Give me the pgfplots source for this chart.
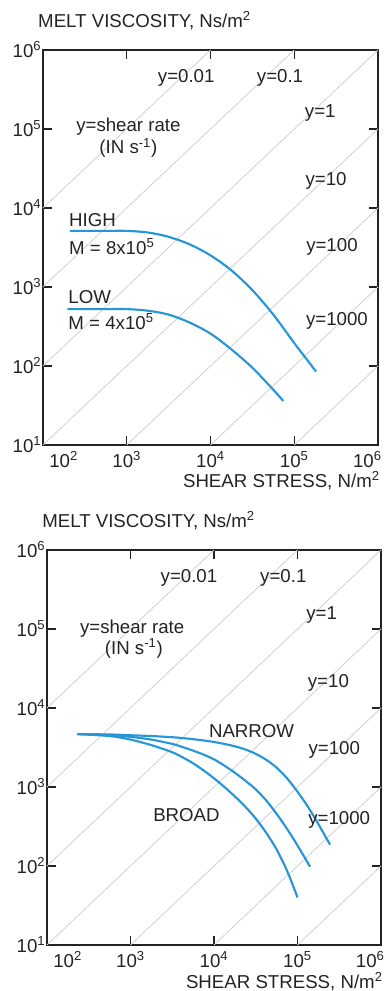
\documentclass[border=0pt]{standalone}
\usepackage{fontspec}
\setmainfont{Liberation Sans}
\usepackage{pgfplots}
\pgfplotsset{compat=1.18}
\definecolor{curveblue}{RGB}{38,150,216}
\definecolor{rategray}{RGB}{208,208,208}
\definecolor{ink}{RGB}{35,35,35}
\newcommand{\sq}[1]{\textsuperscript{#1}}
\tikzset{
 rateline/.style={rategray, line width=0.6pt},
 flow/.style={curveblue, line width=1.6pt, smooth, tension=0.5},
 lab/.style={ink, inner sep=0pt},
}
\begin{document}
\fontsize{14}{17}\selectfont
\begin{tikzpicture}
\path[use as bounding box] (0pt,0pt) rectangle (288.75pt,743.25pt);

% ---------------- top chart ----------------
\begin{axis}[at={(32.25pt,409.5pt)}, width=251.25pt,
  xmode=log, ymode=log, xmin=100, xmax=1e6, ymin=10, ymax=1e6,
  scale only axis, height=296.25pt,
  axis line style={ink, line width=1.4pt},
  major tick style={ink, line width=1.1pt}, major tick length=6.5pt,
  xminorticks=false, yminorticks=false,
  xtick={100,1000,10000,100000,1000000},
  xticklabels={\hspace*{31pt}10\sq{2},10\sq{3},10\sq{4},10\sq{5},10\sq{6}\hspace*{16pt}},
  ytick={10,100,1000,10000,100000,1000000},
  yticklabels={10\sq{1},10\sq{2},10\sq{3},10\sq{4},10\sq{5},10\sq{6}},
  tick label style={ink},
  yticklabel style={inner xsep=1pt},
  clip=false, anchor=south west]
\addplot[rateline] coordinates {(100,10000) (10000,1000000)};
\addplot[rateline] coordinates {(100,1000) (100000,1000000)};
\addplot[rateline] coordinates {(100,100) (1000000,1000000)};
\addplot[rateline] coordinates {(100,10) (1000000,100000)};
\addplot[rateline] coordinates {(1000,10) (1000000,10000)};
\addplot[rateline] coordinates {(10000,10) (1000000,1000)};
\addplot[rateline] coordinates {(100000,10) (1000000,100)};
% HIGH
\addplot[flow] coordinates {
(209,5129) (562,5129) (1000,5129) (1778,4898) (3162,4315) (5623,3467)
(10000,2512) (17783,1622) (31623,912) (56234,447) (100000,195)
(134896,129) (181970,85)};
% LOW
\addplot[flow] coordinates {
(195,525) (562,525) (1000,525) (1778,501) (3162,447) (5623,355)
(10000,257) (17783,162) (31623,95) (56234,50) (74131,36)};
\node[lab] at (axis cs:5129,446684) {y=0.01};
\node[lab] at (axis cs:67608,446684) {y=0.1};
\node[lab] at (axis cs:204174,158489) {y=1};
\node[lab] at (axis cs:239883,21878) {y=10};
\node[lab] at (axis cs:281838,3236) {y=100};
\node[lab] at (axis cs:323594,372) {y=1000};
\node[lab] at (axis cs:1047,107152) {y=shear rate};
\node[lab] at (axis cs:1047,57544) {(IN s\sq{-1})};
\node[lab,anchor=west] at (axis cs:204,7079) {HIGH};
\node[lab,anchor=west] at (axis cs:204,3236) {M = 8x10\sq{5}};
\node[lab,anchor=west] at (axis cs:200,741) {LOW};
\node[lab,anchor=west] at (axis cs:200,363) {M = 4x10\sq{5}};
\node[lab,anchor=base west] at (rel axis cs:-0.015,1.056) {MELT VISCOSITY, Ns/m\sq{2}};
\node[lab,anchor=north east] at (rel axis cs:1.006,-0.066) {SHEAR STRESS, N/m\sq{2}};
\end{axis}

% ---------------- bottom chart ----------------
\begin{axis}[at={(35.25pt,34.5pt)}, width=250.5pt,
  xmode=log, ymode=log, xmin=100, xmax=1e6, ymin=10, ymax=1e6,
  scale only axis, height=296.25pt,
  axis line style={ink, line width=1.4pt},
  major tick style={ink, line width=1.1pt}, major tick length=6.5pt,
  xminorticks=false, yminorticks=false,
  xtick={100,1000,10000,100000,1000000},
  xticklabels={\hspace*{31pt}10\sq{2},10\sq{3},10\sq{4},10\sq{5},10\sq{6}\hspace*{16pt}},
  ytick={10,100,1000,10000,100000,1000000},
  yticklabels={10\sq{1},10\sq{2},10\sq{3},10\sq{4},10\sq{5},10\sq{6}},
  tick label style={ink},
  yticklabel style={inner xsep=1pt},
  clip=false, anchor=south west]
\addplot[rateline] coordinates {(100,10000) (10000,1000000)};
\addplot[rateline] coordinates {(100,1000) (100000,1000000)};
\addplot[rateline] coordinates {(100,100) (1000000,1000000)};
\addplot[rateline] coordinates {(100,10) (1000000,100000)};
\addplot[rateline] coordinates {(1000,10) (1000000,10000)};
\addplot[rateline] coordinates {(10000,10) (1000000,1000)};
\addplot[rateline] coordinates {(100000,10) (1000000,100)};
% BROAD
\addplot[flow] coordinates {
(229,4677) (562,4416) (1000,3981) (1778,3388) (3162,2754) (4217,2371) (5623,1995)
(7499,1622) (10000,1288) (13335,1000) (17783,759) (23714,562) (31623,398)
(42170,263) (56234,162) (74989,87) (100000,40)};
% MIDDLE
\addplot[flow] coordinates {
(229,4677) (562,4519) (1000,4315) (1778,3981) (3162,3508) (4217,3199) (5623,2884)
(7499,2570) (10000,2239) (13335,1862) (17783,1514) (23714,1202) (31623,933)
(42170,676) (56234,457) (74989,295) (100000,182) (141254,98)};
% NARROW
\addplot[flow] coordinates {
(229,4677) (562,4624) (1000,4519) (1778,4416) (3162,4266) (4217,4159) (5623,4027)
(7499,3882) (10000,3715) (13335,3508) (17783,3273) (23714,2985) (31623,2630)
(42170,2213) (56234,1758) (74989,1288) (100000,871) (133352,562) (177828,339) (245471,186)};
\node[lab] at (axis cs:5012,446684) {y=0.01};
\node[lab] at (axis cs:67608,446684) {y=0.1};
\node[lab] at (axis cs:194984,151356) {y=1};
\node[lab] at (axis cs:234423,20893) {y=10};
\node[lab] at (axis cs:275423,2951) {y=100};
\node[lab] at (axis cs:316228,380) {y=1000};
\node[lab] at (axis cs:1047,102329) {y=shear rate};
\node[lab] at (axis cs:1096,57544) {(IN s\sq{-1})};
\node[lab] at (axis cs:28184,5129) {NARROW};
\node[lab] at (axis cs:4677,447) {BROAD};
\node[lab,anchor=base west] at (rel axis cs:-0.015,1.056) {MELT VISCOSITY, Ns/m\sq{2}};
\node[lab,anchor=north east] at (rel axis cs:1.006,-0.068) {SHEAR STRESS, N/m\sq{2}};
\end{axis}
\end{tikzpicture}
\end{document}
